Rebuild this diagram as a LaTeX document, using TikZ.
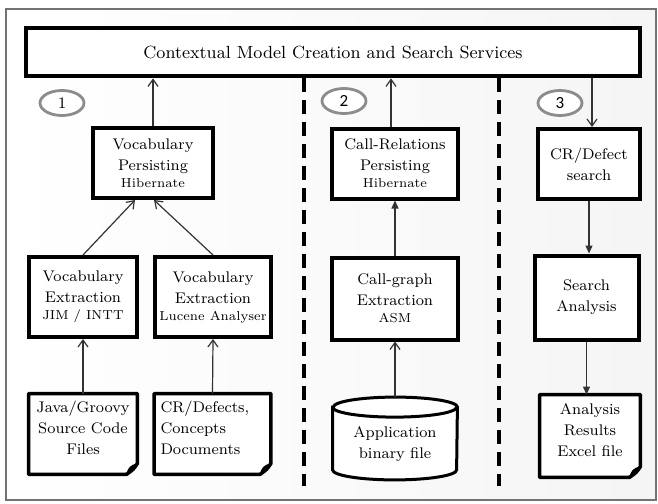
\documentclass[tikz,border=0pt]{standalone}
\usepackage{fontspec}
\newfontfamily\numfont{Carlito}
\usetikzlibrary{arrows.meta,shapes.geometric}
\newcommand{\docshape}[1]{%
  \draw[line width=1.8pt, line join=round, fill=white] (#1.south west) -- (#1.north west) -- (#1.north east)
    -- ([yshift=5.5pt]#1.south east) .. controls ([xshift=-2pt,yshift=2.5pt]#1.south east) .. ([xshift=-5.5pt]#1.south east) -- cycle;
  \fill ([yshift=5.5pt]#1.south east) .. controls ([xshift=-3.5pt,yshift=5pt]#1.south east) and ([xshift=-5pt,yshift=3pt]#1.south east) .. ([xshift=-5.5pt]#1.south east)
    .. controls ([xshift=-2pt,yshift=2.5pt]#1.south east) .. cycle;}
\newcommand{\cylshape}[1]{%
  \draw[line width=1.5pt, fill=white] ([yshift=-5pt]#1.north west) -- ([yshift=5pt]#1.south west)
    arc[start angle=180,end angle=360,x radius=31pt,y radius=5pt]
    -- ([yshift=-5pt]#1.north east)
    arc[start angle=0,end angle=180,x radius=31pt,y radius=5pt] -- cycle;
  \draw[line width=1.5pt] ([yshift=-5pt]#1.north west) arc[start angle=180,end angle=360,x radius=31pt,y radius=5pt];}
\begin{document}
\begin{tikzpicture}[x=0.5pt,y=-0.5pt,
  box/.style={draw, fill=white, line width=2pt, align=center, inner sep=1pt,
    font=\fontsize{7.7}{10.5}\selectfont},
  plain/.style={align=center, inner sep=1pt, font=\fontsize{7.7}{10.5}\selectfont},
  arr/.style={draw=black!80, line width=0.6pt, -{Straight Barb[length=3.5pt,width=5pt]}},
  farr/.style={draw=black!80, line width=0.6pt, -{Triangle[length=4pt,width=3.5pt]}},
  sep/.style={line width=1.6pt, dash pattern=on 7pt off 4pt},
  numc/.style={ellipse, draw=black!45, fill=white, line width=1.4pt, minimum width=22pt, minimum height=12.5pt, inner sep=0pt, font=\fontsize{8}{9}\selectfont}]
\useasboundingbox (0,0) rectangle (658,503);
\shade[left color=white, right color=black!4, draw=black!55, line width=0.6pt] (6,9) rectangle (656,500);
\newcommand{\sm}{\fontsize{6.5}{8}\selectfont}
% top
\node[box, line width=2.4pt, minimum width=307pt, minimum height=24pt, font=\fontsize{8.8}{10}\selectfont] (top) at (333,52) {Contextual Model Creation and Search Services};
% separators
\coordinate (s1a) at (304,78); \coordinate (s1b) at (304,486);
\coordinate (s2a) at (499,78); \coordinate (s2b) at (499,486);
\draw[sep] (s1a) -- (s1b);
\draw[sep] (s2a) -- (s2b);
% numbers
\node[numc] (n1) at (62,103) {1};
\node[numc, font=\numfont\fontsize{8.5}{9}\selectfont] (n2) at (344,101) {2};
\node[numc, font=\numfont\fontsize{8.5}{9}\selectfont] (n3) at (560,103) {3};
% column 1
\node[box, minimum width=60pt, minimum height=35pt] (vp) at (153,163) {Vocabulary\\Persisting\\[-2pt]{\sm Hibernate}};
\node[box, minimum width=54pt, minimum height=40pt] (ve1) at (83,297) {Vocabulary\\Extraction\\[-2pt]{\sm JIM / INTT}};
\node[box, minimum width=58pt, minimum height=40pt] (ve2) at (213,297) {Vocabulary\\Extraction\\[-2pt]{\sm Lucene Analyser}};
\node[plain, minimum width=54pt, minimum height=40pt, yshift=1.5pt] (doc1) at (83,437) {\phantom{X}};
\node[plain, minimum width=58pt, minimum height=40pt, yshift=1.5pt] (doc2) at (212.5,437) {\phantom{X}};
\docshape{doc1}
\docshape{doc2}
\node[plain] (doc1t) at ([yshift=3pt]doc1.center) {Java/Groovy\\Source Code\\Files};
\node[plain, text width=52pt, align=left] (doc2t) at ([yshift=3pt]doc2.center) {CR/Defects,\\Concepts\\Documents};
% column 2
\node[box, minimum width=63pt, minimum height=35pt] (crp) at (395,163.5) {Call-Relations\\Persisting\\[-2pt]{\sm Hibernate}};
\node[box, minimum width=63pt, minimum height=41pt] (cg) at (395,298.5) {Call-graph\\Extraction\\[-2pt]{\sm ASM}};
\node[plain, minimum width=62pt, minimum height=41pt] (cyl) at (395,438.5) {\phantom{X}};
\cylshape{cyl}
\node[plain] (cylt) at ([yshift=-3pt]cyl.center) {Application\\binary file};
% column 3
\node[box, minimum width=51pt, minimum height=35pt] (cr) at (589,164) {CR/Defect\\search};
\node[box, minimum width=52pt, minimum height=42pt] (sa) at (586.5,297.5) {Search\\Analysis};
\node[plain, minimum width=50pt, minimum height=41pt, yshift=1.5pt] (ar) at (590,439) {\phantom{X}};
\docshape{ar}
\node[plain] (art) at ([yshift=3pt]ar.center) {Analysis\\Results\\Excel file};
% connectors
\draw[arr] (vp.north) -- (vp.north |- top.south);
\draw[arr] (ve1.north) -- ([xshift=-9pt]vp.south);
\draw[arr] (ve2.north) -- ([xshift=0.5pt]vp.south);
\draw[arr] (doc1.north) -- (ve1.south);
\draw[arr] (doc2.north) -- (ve2.south);
\draw[arr] ([xshift=-2pt]crp.north) -- ([xshift=-2pt]crp.north |- top.south);
\draw[farr] (cg.north) -- (crp.south);
\draw[arr] (cyl.north) -- (cg.south);
\draw[arr] ([xshift=1.5pt]cr.north |- top.south) -- ([xshift=1.5pt]cr.north);
\draw[farr] (cr.south) -- (cr.south |- sa.north);
\draw[farr] (sa.south) -- (sa.south |- ar.north);
\end{tikzpicture}
\end{document}
